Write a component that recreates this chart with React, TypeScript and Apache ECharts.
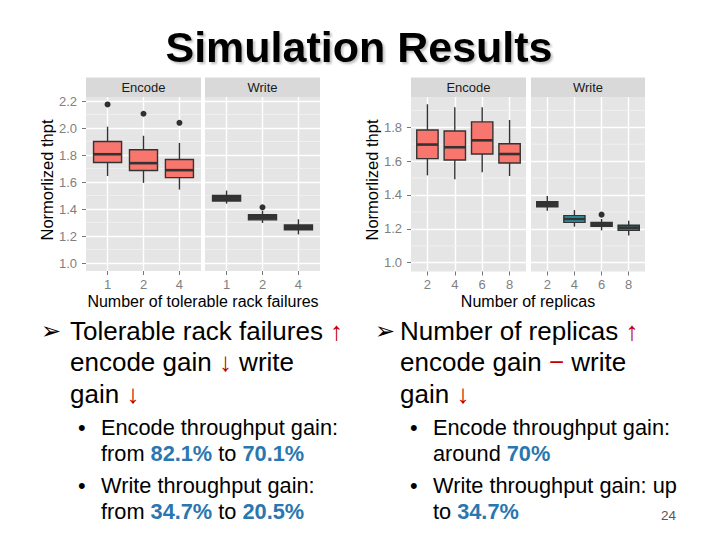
import React, { useEffect, useRef } from "react";
import * as echarts from "echarts";

// ---------- data ----------
const rackCats = ["1", "2", "4"];
const replicaCats = ["2", "4", "6", "8"];
// each box: [low whisker, Q1, median, Q3, high whisker]
const rackEncode = [
  [1.645, 1.745, 1.806, 1.9, 2.01],
  [1.594, 1.685, 1.74, 1.839, 1.943],
  [1.544, 1.633, 1.688, 1.767, 1.89],
];
const rackEncodeOutliers = [[1, 2.175], [2, 2.106], [3, 2.039]];
const rackWrite = [
  [1.44, 1.46, 1.48, 1.5, 1.537],
  [1.297, 1.32, 1.339, 1.358, 1.386],
  [1.212, 1.247, 1.262, 1.282, 1.324],
];
const rackWriteOutliers = [[2, 1.413]];
const replicaEncode = [
  [1.516, 1.615, 1.698, 1.784, 1.936],
  [1.493, 1.607, 1.682, 1.778, 1.918],
  [1.534, 1.642, 1.723, 1.832, 1.918],
  [1.512, 1.589, 1.642, 1.703, 1.843],
];
const replicaEncodeOutliers: number[][] = [];
const replicaWrite = [
  [1.307, 1.331, 1.347, 1.361, 1.394],
  [1.213, 1.238, 1.258, 1.278, 1.311],
  [1.191, 1.215, 1.227, 1.238, 1.258],
  [1.16, 1.191, 1.207, 1.221, 1.248],
];
const replicaWriteOutliers = [[3, 1.284]];
const rackYTicks = [1.0, 1.2, 1.4, 1.6, 1.8, 2.0, 2.2];
const rackYMinor = [1.1, 1.3, 1.5, 1.7, 1.9, 2.1];
const replicaYTicks = [1.0, 1.2, 1.4, 1.6, 1.8];
const replicaYMinor = [1.1, 1.3, 1.5, 1.7, 1.9];

// ---------- styles ----------
const SALMON = "#F8766D";
const DARK = "#333333";
const FONT = "Liberation Sans";
const RED = "#C00000";
const BLUE = "#2A77B0";

const charts = [
  {
    top: 97,
    height: 174,
    yMin: 0.941,
    yMax: 2.23,
    ticks: rackYTicks,
    minors: rackYMinor,
    yTitleX: 47,
    xTitle: "Number of tolerable rack failures",
    xTitleX: 203,
    panels: [
      { strip: "Encode", left: 86, width: 115, cats: rackCats, boxes: rackEncode, outliers: rackEncodeOutliers, fills: [SALMON, SALMON, SALMON], showY: true },
      { strip: "Write", left: 205, width: 115, cats: rackCats, boxes: rackWrite, outliers: rackWriteOutliers, fills: [DARK, DARK, DARK], showY: false },
    ],
  },
  {
    top: 97,
    height: 174.5,
    yMin: 0.948,
    yMax: 1.979,
    ticks: replicaYTicks,
    minors: replicaYMinor,
    yTitleX: 371.5,
    xTitle: "Number of replicas",
    xTitleX: 528,
    panels: [
      { strip: "Encode", left: 411, width: 115, cats: replicaCats, boxes: replicaEncode, outliers: replicaEncodeOutliers, fills: [SALMON, SALMON, SALMON, SALMON], showY: true },
      { strip: "Write", left: 531, width: 114, cats: replicaCats, boxes: replicaWrite, outliers: replicaWriteOutliers, fills: [DARK, "#2BA3B3", DARK, "#3E7F88"], showY: false },
    ],
  },
];

function buildOption() {
  const grid: any[] = [];
  const xAxis: any[] = [];
  const yAxis: any[] = [];
  const series: any[] = [];
  const graphic: any[] = [];
  let idx = 0;

  charts.forEach((c) => {
    c.panels.forEach((p) => {
      const n = p.cats.length;
      const pos = p.cats.map((_, i) => i + 1);
      grid.push({
        left: p.left,
        top: c.top,
        width: p.width,
        height: c.height,
        show: true,
        backgroundColor: "#E5E5E5",
        borderWidth: 0,
        outerBoundsMode: "none",
        containLabel: false,
      });
      xAxis.push({
        type: "value",
        gridIndex: idx,
        min: 0.4,
        max: n + 0.6,
        axisLine: { show: false },
        axisTick: { show: true, customValues: pos, length: 4, lineStyle: { color: "#777", width: 1 } },
        axisLabel: {
          show: true,
          customValues: pos,
          formatter: (v: number) => p.cats[Math.round(v) - 1] ?? "",
          color: "#7F7F7F",
          fontSize: 13,
          fontFamily: FONT,
          margin: 6.5,
        },
        splitLine: { show: true, lineStyle: { color: "#FFFFFF", width: 1.4 } },
      });
      yAxis.push({
        type: "value",
        gridIndex: idx,
        min: c.yMin,
        max: c.yMax,
        axisLine: { show: false },
        axisTick: { show: p.showY, customValues: c.ticks, length: 4, lineStyle: { color: "#777", width: 1 } },
        axisLabel: {
          show: p.showY,
          customValues: c.ticks,
          formatter: (v: number) => v.toFixed(1),
          color: "#7F7F7F",
          fontSize: 13,
          fontFamily: FONT,
          margin: 9,
        },
        splitLine: { show: true, lineStyle: { color: "#FFFFFF", width: 1.4 } },
      });
      // minor grid lines
      series.push({
        type: "custom",
        xAxisIndex: idx,
        yAxisIndex: idx,
        z: 1,
        silent: true,
        data: c.minors.map((v) => [1, v]),
        renderItem: (params: any, api: any) => {
          const y = api.coord([1, api.value(1)])[1];
          const cs = params.coordSys;
          return {
            type: "line",
            shape: { x1: cs.x, y1: y, x2: cs.x + cs.width, y2: y },
            style: { stroke: "#F2F2F2", lineWidth: 0.8 },
          };
        },
      });
      // boxes
      const fills = p.fills;
      series.push({
        type: "custom",
        xAxisIndex: idx,
        yAxisIndex: idx,
        z: 3,
        silent: true,
        data: p.boxes.map((b, i) => [i + 1, ...b]),
        renderItem: (params: any, api: any) => {
          const x = api.value(0);
          const low = api.coord([x, api.value(1)]);
          const q1 = api.coord([x, api.value(2)]);
          const med = api.coord([x, api.value(3)]);
          const q3 = api.coord([x, api.value(4)]);
          const high = api.coord([x, api.value(5)]);
          const half = api.size([0.78, 0])[0] / 2;
          const cx = low[0];
          return {
            type: "group",
            children: [
              { type: "line", shape: { x1: cx, y1: low[1], x2: cx, y2: q1[1] }, style: { stroke: DARK, lineWidth: 1.4 } },
              { type: "line", shape: { x1: cx, y1: q3[1], x2: cx, y2: high[1] }, style: { stroke: DARK, lineWidth: 1.4 } },
              {
                type: "rect",
                shape: { x: cx - half, y: q3[1], width: half * 2, height: q1[1] - q3[1] },
                style: { fill: fills[params.dataIndex], stroke: DARK, lineWidth: 1.4 },
              },
              { type: "line", shape: { x1: cx - half, y1: med[1], x2: cx + half, y2: med[1] }, style: { stroke: DARK, lineWidth: 2.6 } },
            ],
          };
        },
      });
      if (p.outliers.length) {
        series.push({
          type: "scatter",
          xAxisIndex: idx,
          yAxisIndex: idx,
          z: 4,
          silent: true,
          symbol: "circle",
          symbolSize: 6,
          itemStyle: { color: "#000000" },
          data: p.outliers,
        });
      }
      // strip
      graphic.push({
        type: "rect",
        shape: { x: p.left, y: 77.5, width: p.width, height: 19.5 },
        style: { fill: "#D9D9D9" },
        silent: true,
      });
      graphic.push({
        type: "text",
        x: p.left + p.width / 2,
        y: 87.5,
        style: {
          text: p.strip,
          fill: "#1A1A1A",
          fontSize: 13,
          fontFamily: FONT,
          align: "center",
          verticalAlign: "middle",
          textAlign: "center",
          textVerticalAlign: "middle",
        },
        silent: true,
      });
      idx++;
    });
    // axis titles
    graphic.push({
      type: "text",
      x: c.yTitleX,
      y: 180,
      rotation: Math.PI / 2,
      style: {
        text: "Normorlized thpt",
        fill: "#000",
        fontSize: 16.5,
        fontFamily: FONT,
        align: "center",
        verticalAlign: "middle",
        textAlign: "center",
        textVerticalAlign: "middle",
      },
      silent: true,
    });
    graphic.push({
      type: "text",
      x: c.xTitleX,
      y: 301.5,
      style: {
        text: c.xTitle,
        fill: "#000",
        fontSize: 16,
        fontFamily: FONT,
        align: "center",
        verticalAlign: "middle",
        textAlign: "center",
        textVerticalAlign: "middle",
      },
      silent: true,
    });
  });

  const txt = (x: number, y: number, text: string, size: number, extra: any = {}) => ({
    type: "text",
    x,
    y,
    silent: true,
    style: {
      text,
      fill: "#000",
      fontSize: size,
      fontFamily: FONT,
      align: "left",
      verticalAlign: "middle",
      textAlign: "left",
      textVerticalAlign: "middle",
      rich: {
        r: { fill: RED, fontSize: size, fontFamily: FONT },
        b: { fill: BLUE, fontSize: size, fontFamily: FONT, fontWeight: "bold" },
      },
      ...extra,
    },
  });

  // title
  graphic.push({
    type: "text",
    x: 359,
    y: 47,
    silent: true,
    style: {
      text: "Simulation Results",
      fill: "#000",
      fontSize: 43,
      fontWeight: "bold",
      fontFamily: FONT,
      align: "center",
      verticalAlign: "middle",
      textAlign: "center",
      textVerticalAlign: "middle",
      textShadowColor: "rgba(0,0,0,0.25)",
      textShadowOffsetX: 2,
      textShadowOffsetY: 2,
      textShadowBlur: 2,
    },
  });

  const M = 26;
  const S = 21.75;
  // left column
  graphic.push(txt(41, 331, "➢", 24, { fontFamily: "DejaVu Sans" }));
  graphic.push(txt(70, 331, "Tolerable rack failures {r|↑}", M));
  graphic.push(txt(70, 362, "encode gain {r|↓} write", M));
  graphic.push(txt(70, 394, "gain {r|↓}", M));
  graphic.push(txt(78, 427, "•", S));
  graphic.push(txt(101, 427, "Encode throughput gain:", S));
  graphic.push(txt(101, 453, "from {b|82.1%} to {b|70.1%}", S));
  graphic.push(txt(78, 485, "•", S));
  graphic.push(txt(101, 485, "Write throughput gain:", S));
  graphic.push(txt(101, 511, "from {b|34.7%} to {b|20.5%}", S));
  // right column
  graphic.push(txt(375, 331, "➢", 24, { fontFamily: "DejaVu Sans" }));
  graphic.push(txt(400, 331, "Number of replicas {r|↑}", M));
  graphic.push(txt(400, 362, "encode gain {r|−} write", M));
  graphic.push(txt(400, 394, "gain {r|↓}", M));
  graphic.push(txt(410, 427, "•", S));
  graphic.push(txt(433, 427, "Encode throughput gain:", S));
  graphic.push(txt(433, 453, "around {b|70%}", S));
  graphic.push(txt(410, 485, "•", S));
  graphic.push(txt(433, 485, "Write throughput gain: up", S));
  graphic.push(txt(433, 511, "to {b|34.7%}", S));
  // page number
  graphic.push(txt(661, 515, "24", 13.5, { fill: "#595959" }));

  return {
    animation: false,
    backgroundColor: "#FFFFFF",
    grid,
    xAxis,
    yAxis,
    series,
    graphic: { elements: graphic },
  };
}

export default function App() {
  const ref = useRef<HTMLDivElement>(null);
  useEffect(() => {
    if (!ref.current) return;
    const chart = echarts.init(ref.current, undefined, { renderer: "svg" });
    chart.setOption(buildOption() as any);
    return () => chart.dispose();
  }, []);
  return (
    <div
      ref={ref}
      style={{ position: "fixed", left: 0, top: 0, width: 720, height: 540, background: "#fff" }}
    />
  );
}
